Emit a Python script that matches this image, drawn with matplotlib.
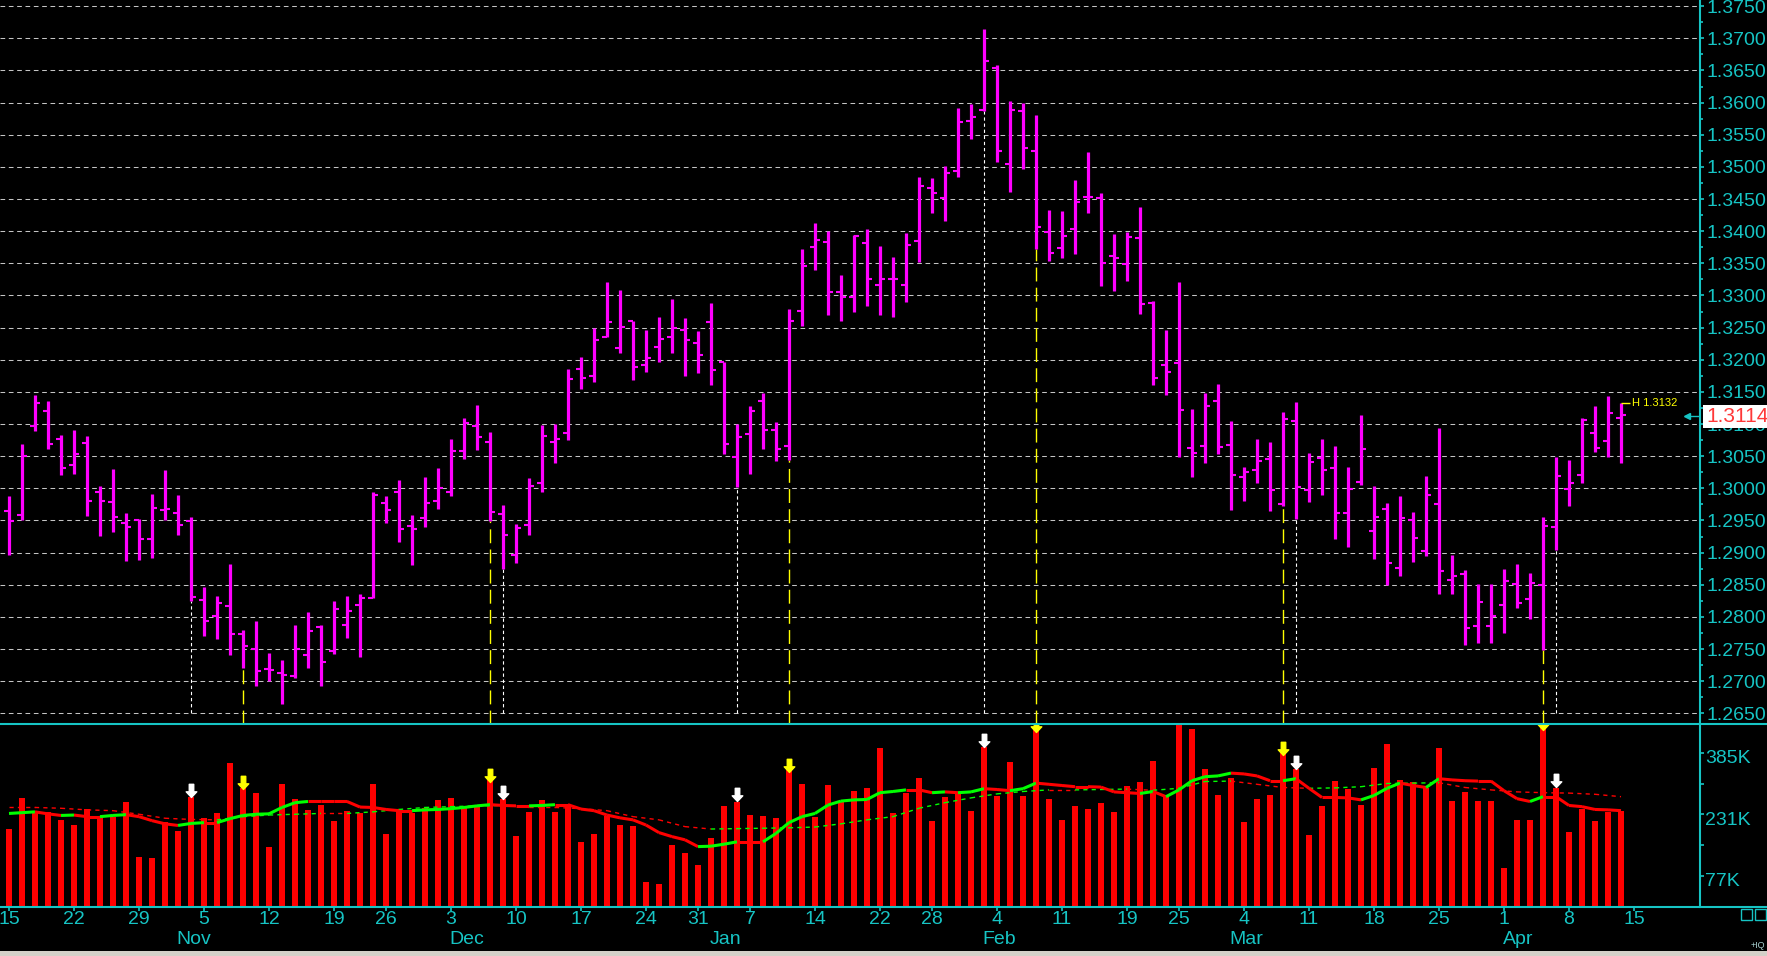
import numpy as np
import matplotlib
matplotlib.use('Agg')
import matplotlib.pyplot as plt
import matplotlib.transforms as mtransforms
from matplotlib.collections import LineCollection
from matplotlib.lines import Line2D
from matplotlib.patches import Rectangle
from matplotlib.path import Path

plt.rcParams['font.family'] = ['Liberation Sans', 'DejaVu Sans']

# daily bars, Oct 15 .. Apr 12 (125 sessions)
opens = [1.2964, 1.2959, 1.3097, 1.3121, 1.3076, 1.3036, 1.3070, 1.2995, 1.2978, 1.2946,
         1.2951, 1.2921, 1.2967, 1.2961, 1.2949, 1.2826, 1.2801, 1.2817, 1.2774, 1.2750,
         1.2719, 1.2713, 1.2708, 1.2740, 1.2784, 1.2747, 1.2787, 1.2818, 1.2830, 1.2977,
         1.2995, 1.2942, 1.2954, 1.2980, 1.2994, 1.3058, 1.3097, 1.3072, 1.2960, 1.2897,
         1.2943, 1.3009, 1.3072, 1.3086, 1.3186, 1.3174, 1.3236, 1.3218, 1.3261, 1.3192,
         1.3220, 1.3236, 1.3246, 1.3226, 1.3258, 1.3196, 1.3049, 1.3085, 1.3136, 1.3091,
         1.3066, 1.3276, 1.3376, 1.3383, 1.3306, 1.3297, 1.3381, 1.3317, 1.3326, 1.3317,
         1.3384, 1.3467, 1.3452, 1.3494, 1.3572, 1.3589, 1.3654, 1.3505, 1.3587, 1.3524,
         1.3399, 1.3374, 1.3404, 1.3453, 1.3452, 1.3362, 1.3349, 1.3390, 1.3288, 1.3192,
         1.3195, 1.3063, 1.3066, 1.3136, 1.3068, 1.3017, 1.3028, 1.3045, 1.2975, 1.3105,
         1.2997, 1.3047, 1.3031, 1.2961, 1.3010, 1.2933, 1.2968, 1.2876, 1.2951, 1.2903,
         1.2975, 1.2858, 1.2866, 1.2786, 1.2786, 1.2819, 1.2851, 1.2828, 1.2850, 1.2940,
         1.2999, 1.3021, 1.3086, 1.3073, 1.3110]
highs = [1.2988, 1.3069, 1.3145, 1.3136, 1.3083, 1.3090, 1.3082, 1.3004, 1.3030, 1.2962,
         1.2952, 1.2991, 1.3028, 1.2990, 1.2956, 1.2847, 1.2832, 1.2882, 1.2780, 1.2794,
         1.2744, 1.2733, 1.2787, 1.2807, 1.2788, 1.2824, 1.2832, 1.2836, 1.2994, 1.2988,
         1.3013, 1.2958, 1.3017, 1.3031, 1.3077, 1.3109, 1.3129, 1.3087, 1.2974, 1.2945,
         1.3016, 1.3098, 1.3100, 1.3185, 1.3204, 1.3250, 1.3321, 1.3308, 1.3261, 1.3246,
         1.3266, 1.3294, 1.3265, 1.3245, 1.3288, 1.3197, 1.3100, 1.3128, 1.3148, 1.3103,
         1.3279, 1.3372, 1.3413, 1.3400, 1.3332, 1.3394, 1.3403, 1.3377, 1.3360, 1.3397,
         1.3484, 1.3483, 1.3502, 1.3592, 1.3598, 1.3715, 1.3658, 1.3602, 1.3599, 1.3581,
         1.3433, 1.3431, 1.3479, 1.3523, 1.3459, 1.3395, 1.3399, 1.3437, 1.3291, 1.3246,
         1.3321, 1.3124, 1.3148, 1.3163, 1.3104, 1.3033, 1.3076, 1.3072, 1.3118, 1.3134,
         1.3055, 1.3076, 1.3066, 1.3033, 1.3114, 1.3003, 1.2977, 1.2988, 1.2963, 1.3019,
         1.3094, 1.2897, 1.2873, 1.2851, 1.2851, 1.2874, 1.2883, 1.2869, 1.2955, 1.3048,
         1.3044, 1.3109, 1.3128, 1.3144, 1.3132]
lows = [1.2897, 1.2950, 1.3089, 1.3061, 1.3020, 1.3022, 1.2957, 1.2926, 1.2932, 1.2887,
        1.2888, 1.2891, 1.2950, 1.2928, 1.2825, 1.2771, 1.2765, 1.2741, 1.2721, 1.2693,
        1.2700, 1.2664, 1.2705, 1.2721, 1.2693, 1.2743, 1.2767, 1.2738, 1.2829, 1.2946,
        1.2916, 1.2880, 1.2940, 1.2968, 1.2988, 1.3045, 1.3059, 1.2949, 1.2874, 1.2884,
        1.2927, 1.2994, 1.3040, 1.3075, 1.3155, 1.3166, 1.3235, 1.3211, 1.3169, 1.3181,
        1.3197, 1.3211, 1.3174, 1.3180, 1.3161, 1.3054, 1.3002, 1.3023, 1.3061, 1.3043,
        1.3044, 1.3253, 1.3340, 1.3269, 1.3260, 1.3275, 1.3284, 1.3270, 1.3267, 1.3290,
        1.3352, 1.3428, 1.3416, 1.3485, 1.3544, 1.3587, 1.3508, 1.3461, 1.3496, 1.3372,
        1.3354, 1.3359, 1.3365, 1.3428, 1.3315, 1.3307, 1.3323, 1.3271, 1.3161, 1.3145,
        1.3048, 1.3018, 1.3039, 1.3053, 1.2966, 1.2981, 1.3009, 1.2964, 1.2973, 1.2953,
        1.2978, 1.2989, 1.2921, 1.2909, 1.3005, 1.2890, 1.2849, 1.2864, 1.2886, 1.2895,
        1.2835, 1.2835, 1.2757, 1.2760, 1.2760, 1.2775, 1.2814, 1.2796, 1.2748, 1.2904,
        1.2973, 1.3009, 1.3057, 1.3048, 1.3040]
closes = [1.2949, 1.3051, 1.3132, 1.3069, 1.3032, 1.3054, 1.2980, 1.2980, 1.2955, 1.2940,
          1.2921, 1.2969, 1.2968, 1.2943, 1.2831, 1.2793, 1.2821, 1.2773, 1.2754, 1.2716,
          1.2718, 1.2710, 1.2750, 1.2778, 1.2730, 1.2812, 1.2809, 1.2829, 1.2990, 1.2967,
          1.2936, 1.2936, 1.2977, 1.3001, 1.3058, 1.3101, 1.3080, 1.2963, 1.2927, 1.2938,
          1.3003, 1.3082, 1.3077, 1.3170, 1.3172, 1.3231, 1.3259, 1.3251, 1.3188, 1.3202,
          1.3233, 1.3249, 1.3231, 1.3208, 1.3184, 1.3069, 1.3080, 1.3121, 1.3091, 1.3061,
          1.3260, 1.3346, 1.3386, 1.3305, 1.3297, 1.3393, 1.3325, 1.3325, 1.3325, 1.3379,
          1.3470, 1.3460, 1.3491, 1.3570, 1.3578, 1.3665, 1.3524, 1.3589, 1.3530, 1.3407,
          1.3366, 1.3393, 1.3446, 1.3453, 1.3351, 1.3358, 1.3391, 1.3287, 1.3172, 1.3181,
          1.3122, 1.3055, 1.3128, 1.3064, 1.3020, 1.3025, 1.3042, 1.2997, 1.3108, 1.3002,
          1.3041, 1.3028, 1.2961, 1.2999, 1.3061, 1.2956, 1.2884, 1.2954, 1.2923, 1.2990,
          1.2872, 1.2864, 1.2782, 1.2823, 1.2801, 1.2856, 1.2822, 1.2852, 1.2942, 1.3019,
          1.3009, 1.3106, 1.3063, 1.3117, 1.3114]

# volume in thousands of contracts
volume_k = [194, 272, 236, 237, 217, 204, 244, 225, 225, 262, 124, 121, 212, 189, 274,
            222, 234, 359, 297, 284, 149, 307, 269, 242, 254, 214, 239, 235, 307, 182,
            242, 234, 246, 267, 272, 252, 252, 317, 269, 177, 237, 267, 237, 252, 162,
            182, 227, 204, 202, 61, 56, 154, 134, 104, 172, 252, 262, 229, 227, 222,
            342, 307, 224, 304, 262, 289, 297, 397, 234, 284, 322, 214, 274, 284, 239,
            399, 277, 362, 277, 442, 269, 217, 252, 244, 259, 237, 302, 312, 364, 277,
            455, 444, 344, 279, 322, 212, 269, 279, 384, 344, 179, 252, 314, 294, 254,
            347, 407, 317, 312, 297, 397, 264, 287, 264, 264, 96, 217, 217, 447, 297,
            187, 244, 214, 237, 239]
# short volume average, one value per session
vol_avg = [233, 235, 237, 232, 228, 229, 225, 225, 228, 230, 225, 215, 207, 203, 208,
           210, 210, 220, 228, 231, 232, 248, 260, 263, 263, 263, 263, 249, 248, 243,
           240, 240, 242, 243, 245, 248, 252, 255, 253, 252, 252, 253, 255, 255, 244,
           240, 229, 222, 217, 204, 185, 175, 167, 150, 151, 156, 162, 162, 162, 183,
           210, 225, 233, 254, 264, 267, 268, 285, 288, 292, 292, 285, 287, 285, 287,
           295, 293, 290, 295, 309, 306, 303, 300, 300, 299, 287, 285, 283, 288, 275,
           292, 315, 325, 327, 334, 332, 327, 315, 315, 320, 296, 273, 273, 272, 267,
           278, 296, 309, 303, 298, 320, 317, 315, 314, 314, 290, 270, 263, 275, 275,
           253, 250, 243, 242, 240]
# long volume average, read every second session
vol_avg_long_idx = list(range(0, 125, 2))
vol_avg_long = [248, 248, 246, 242, 240, 231, 221, 218, 217, 225, 229, 231, 233, 233, 237,
                243, 248, 250, 252, 253, 248, 248, 245, 240, 225, 217, 200, 194, 195, 196,
                197, 199, 207, 217, 225, 246, 260, 272, 282, 288, 292, 292, 293, 294, 291,
                296, 313, 314, 306, 298, 296, 297, 300, 308, 309, 310, 298, 292, 287, 285,
                284, 281, 275]

day_idx = [0, 5, 10, 15, 20, 25, 29, 34, 39, 44, 49, 53, 57, 62, 67, 71, 76, 81, 86,
           90, 95, 100, 105, 110, 115, 120, 125]
day_labels = ['15', '22', '29', '5', '12', '19', '26', '3', '10', '17', '24', '31', '7',
              '14', '22', '28', '4', '11', '19', '25', '4', '11', '18', '25', '1', '8', '15']
month_idx = [13, 34, 54, 75, 94, 115]
month_labels = ['Nov', 'Dec', 'Jan', 'Feb', 'Mar', 'Apr']

white_marks = [14, 38, 56, 75, 99, 119]
yellow_marks = [18, 37, 60, 79, 98, 118]
last_high = 1.3132
last_price = 1.3114

W, H = 1767, 956
CYAN = '#16c4c4'
MAGENTA = '#ff00ff'


def fx(px):
    return px / W


def fy(py):
    return 1 - py / H


fig = plt.figure(figsize=(W / 100, H / 100), dpi=100, facecolor='black')

x = np.arange(len(closes))
xlim = (-9 / 13, (1700 - 9) / 13)

# ---- price panel
ax1 = fig.add_axes([0, fy(724), fx(1700), 724 / H], facecolor='black')
ax1.set_xlim(*xlim)
ax1.set_ylim(1.26334, 1.37596)
for s in ax1.spines.values():
    s.set_visible(False)
ax1.set_xticks([])
major = np.round(np.arange(1.265, 1.3751, 0.005), 4)
ax1.yaxis.tick_right()
ax1.set_yticks(major)
ax1.set_yticklabels(['%.4f' % v for v in major])
ax1.set_yticks(major[:-1] + 0.0025, minor=True)
ax1.tick_params(axis='y', which='major', colors=CYAN, length=3, width=1.2,
                labelsize=14, pad=2)
ax1.tick_params(axis='y', which='minor', colors=CYAN, length=2, width=1.2)
for v in major:
    ax1.axhline(v, color='#c4c4c4', lw=0.75, ls=(0, (4.5, 3.5)), zorder=0)

low_arr = np.array(lows)
ax1.vlines(white_marks, 1.265, low_arr[white_marks], colors='white', lw=0.8,
           linestyles=(0, (3, 2.5)), zorder=1)
ax1.vlines(yellow_marks, 1.26334, low_arr[yellow_marks], colors='#ffff00', lw=1.0,
           linestyles=(0, (10, 4.5)), zorder=1)

ax1.vlines(x, lows, highs, color=MAGENTA, lw=2.3, zorder=3)
ax1.hlines(opens, x - 0.42, x, color=MAGENTA, lw=1.5, zorder=3)
ax1.hlines(closes, x, x + 0.42, color=MAGENTA, lw=1.5, zorder=3)

ax1.hlines(last_high, x[-1], x[-1] + 0.7, color='#ffff00', lw=1.0, zorder=4)
ax1.text(x[-1] + 0.85, last_high, 'H %.4f' % last_high, color='#ffff00', fontsize=8,
         va='center', ha='left')

# ---- volume panel
ax2 = fig.add_axes([0, fy(906.5), fx(1700), (906.5 - 724) / H], facecolor='black')
ax2.set_xlim(*xlim)
ax2.set_ylim(0, 457)
for s in ax2.spines.values():
    s.set_visible(False)
ax2.bar(x, volume_k, width=0.4, color='#ff0000', zorder=2)


def slope_lines(ax, xs, ys, lw, ls, z):
    pts = np.column_stack([xs, ys])
    segs = np.stack([pts[:-1], pts[1:]], axis=1)
    cols = ['#00ff00' if b > a else '#ff0000' for a, b in zip(ys[:-1], ys[1:])]
    ax.add_collection(LineCollection(segs, colors=cols, linewidths=lw,
                                     linestyles=ls, zorder=z))


slope_lines(ax2, np.array(vol_avg_long_idx), np.array(vol_avg_long), 1.0,
            (0, (3, 3)), 3)
slope_lines(ax2, x, np.array(vol_avg), 2.2, 'solid', 4)

arrow = Path([(-0.17, 1), (0.17, 1), (0.17, 0.43), (0.4, 0.43), (0, 0),
              (-0.4, 0.43), (-0.17, 0.43), (-0.17, 1)], closed=True)
vol_arr = np.array(volume_k)
ax2.plot(white_marks, vol_arr[white_marks] + 1, marker=arrow, ms=19, color='white',
         ls='none', zorder=6)
ax2.plot(yellow_marks, vol_arr[yellow_marks] - 4, marker=arrow, ms=19, color='#ffff00',
         ls='none', zorder=6)

ax2.yaxis.tick_right()
ax2.set_yticks([77, 231, 385])
ax2.set_yticklabels([])
ax2.set_yticks([154, 308], minor=True)
ax2.tick_params(axis='y', which='both', colors=CYAN, length=3, width=1.2)
lab_tr = mtransforms.offset_copy(
    mtransforms.blended_transform_factory(fig.transFigure, ax2.transData),
    fig=fig, x=0, y=-6, units='dots')
for v in [77, 231, 385]:
    ax2.text(fx(1705), v, '%dK' % v, transform=lab_tr, color=CYAN, fontsize=14,
             va='center', ha='left')

ax2.set_xticks(day_idx)
ax2.set_xticklabels([])
ax2.tick_params(axis='x', colors=CYAN, length=3, width=1.2, direction='out')
date_tr = mtransforms.blended_transform_factory(ax2.transData, fig.transFigure)
for i, lbl in zip(day_idx, day_labels):
    ax2.text(i, fy(919), lbl, transform=date_tr, color=CYAN, fontsize=14,
             ha='center', va='center', clip_on=False)
for i, lbl in zip(month_idx, month_labels):
    ax2.text(i - 0.1, fy(939), lbl, transform=date_tr, color=CYAN, fontsize=14,
             ha='left', va='center', clip_on=False)

# ---- frame lines
for yy in (724, 906.5):
    fig.add_artist(Line2D([0, 1], [fy(yy), fy(yy)], transform=fig.transFigure,
                          color=CYAN, lw=1.5, zorder=5))
fig.add_artist(Line2D([fx(1700), fx(1700)], [1, fy(906.5)], transform=fig.transFigure,
                      color=CYAN, lw=1.5, zorder=5))

# ---- last price box
fig.add_artist(Rectangle((fx(1703), fy(428)), 64 / W, 23 / H, transform=fig.transFigure,
                         facecolor='white', edgecolor='none', zorder=10))
fig.text(fx(1706), fy(416.5), '%.4f' % last_price, color='#ff3838', fontsize=15,
         ha='left', va='center', zorder=11)
fig.add_artist(Line2D([fx(1687), fx(1698)], [fy(416), fy(416)], transform=fig.transFigure,
                      color=CYAN, lw=1.0, marker='<', ms=5, markevery=[0], zorder=10))

# ---- bottom right bits
for bx in (1741, 1755):
    fig.add_artist(Rectangle((fx(bx), fy(920)), 11 / W, 11 / H, transform=fig.transFigure,
                             facecolor='none', edgecolor=CYAN, lw=1.0, zorder=10))
fig.text(fx(1751), fy(946), '+IQ', color='#a8d0d0', fontsize=6.5, ha='left', va='center')
fig.add_artist(Rectangle((0, 0), 1, 5 / H, transform=fig.transFigure,
                         facecolor='#d4d0c8', edgecolor='none', zorder=10))

fig.savefig('out.png', dpi=100, facecolor='black')
